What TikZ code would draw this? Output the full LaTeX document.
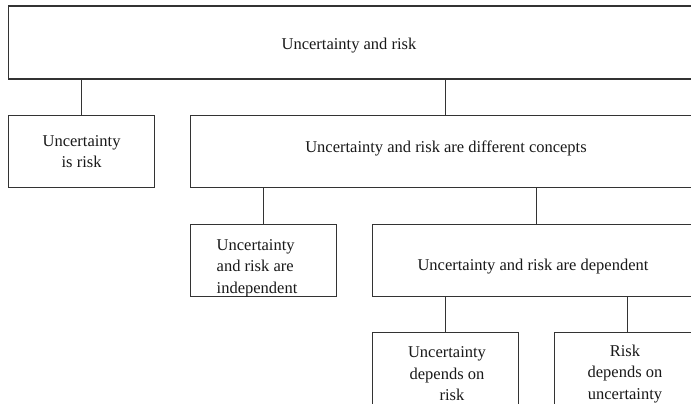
\documentclass[tikz,border=0pt]{standalone}
\usepackage{fontspec}
\setmainfont{Liberation Serif}
\begin{document}
\begin{tikzpicture}[x=1pt,y=-1pt,
  box/.style={draw=black!80, line width=1.2pt, rectangle, inner sep=0pt, anchor=north west},
  lbl/.style={font=\fontsize{16.5}{21.5}\selectfont, align=center, inner sep=0pt, text=black!90},
  link/.style={draw=black!80, line width=1.2pt}]
\useasboundingbox (0,0) rectangle (691,404);
\clip (0,0) rectangle (691,404);
\fill[white] (0,0) rectangle (691,404);
% boxes
\node[box, minimum width=692pt, minimum height=73pt] (top) at (8,5.5) {};
\node[box, minimum width=146pt, minimum height=72pt, lbl, inner sep=0pt] (L) at (8,115) {Uncertainty\\is risk};
\node[box, minimum width=510pt, minimum height=72pt] (diff) at (190,115) {};
\node[box, minimum width=146pt, minimum height=72pt] (indep) at (190,224) {};
\node[box, minimum width=328pt, minimum height=72pt] (dep) at (372,224) {};
\node[box, minimum width=146pt, minimum height=90pt] (b1) at (372,332) {};
\node[box, minimum width=146pt, minimum height=90pt] (b2) at (554,332) {};
% texts
\node[lbl] (toptext) at (349,46) {Uncertainty and risk};
\node[lbl] (difftext) at (446,148) {Uncertainty and risk are different concepts};
\node[lbl, align=left, anchor=west] (indeptext) at (216.5,268) {Uncertainty\\and risk are\\independent};
\node[lbl] (deptext) at (533,267) {Uncertainty and risk are dependent};
\node[lbl] (b1text) at (447,374) {Uncertainty\\depends on\\\hspace*{0.6em}risk};
\node[lbl] (b2text) at (625,374) {Risk\\depends on\\uncertainty};
% connectors
\draw[link] (top.south -| L.north) -- (L.north);
\draw[link] (top.south -| diff.north) -- (diff.north);
\draw[link] (diff.south -| indep.north) -- (indep.north);
\draw[link] (diff.south -| dep.north) -- (dep.north);
\draw[link] (dep.south -| b1.north) -- (b1.north);
\draw[link] (dep.south -| b2.north) -- (b2.north);
\end{tikzpicture}
\end{document}
